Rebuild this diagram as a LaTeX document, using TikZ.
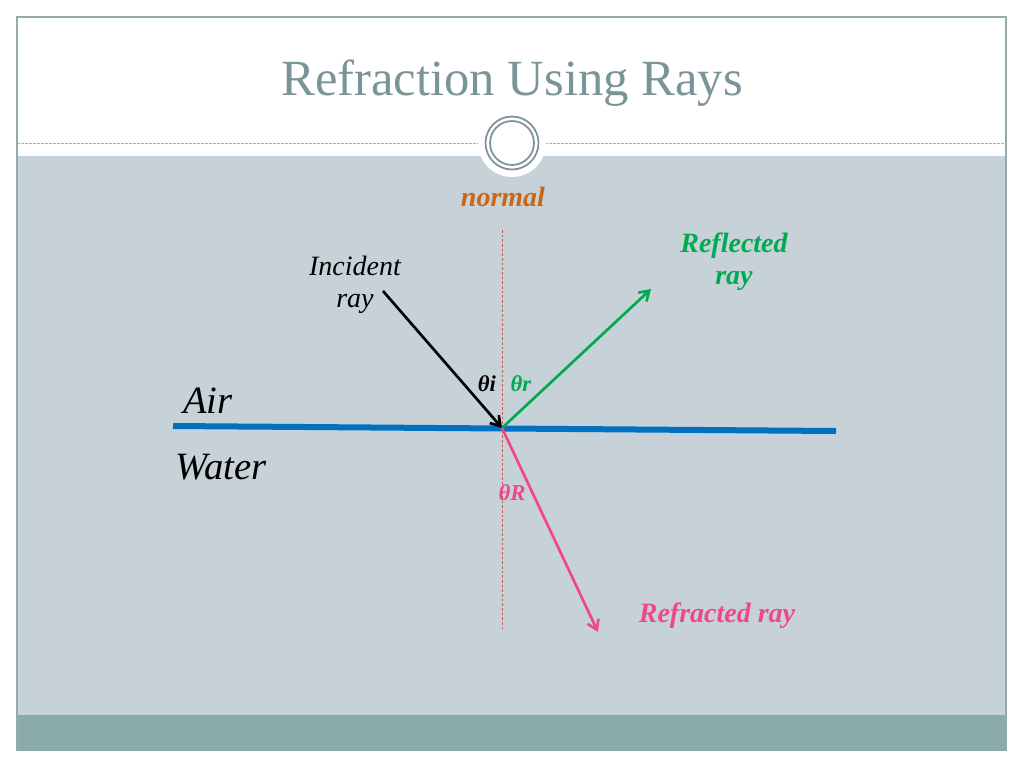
\documentclass[tikz,border=0pt]{standalone}
\usepackage{fontspec}
\setmainfont{Liberation Serif}
\usetikzlibrary{arrows.meta}
\definecolor{bggray}{RGB}{198,209,216}
\definecolor{barteal}{RGB}{138,171,171}
\definecolor{titlecol}{RGB}{122,148,152}
\definecolor{framecol}{RGB}{150,170,172}
\definecolor{normcol}{RGB}{204,102,20}
\definecolor{normline}{RGB}{200,90,80}
\definecolor{waterblue}{RGB}{0,112,192}
\definecolor{reflgreen}{RGB}{0,170,80}
\definecolor{refrpink}{RGB}{240,70,140}
\tikzset{
  ray/.style={line width=2pt,-{Straight Barb[length=7pt,width=9pt,line width=2pt]}},
  lbl/.style={inner sep=0pt,align=center},
}
\begin{document}
\begin{tikzpicture}[x=0.75pt,y=-0.75pt]
\useasboundingbox (0,0) rectangle (1024,768);
\fill[white] (0,0) rectangle (1024,768);
% panels
\fill[bggray] (17,156) rectangle (1006,715);
\fill[barteal] (17,715) rectangle (1006,751);
\draw[framecol,line width=0.8pt] (17,751) -- (17,17) -- (1006,17) -- (1006,751);
% dashed separator
\draw[titlecol!70,dashed,line width=0.6pt,dash pattern=on 2pt off 1pt] (17,143) -- (1006,143);
\fill[white] (512,143) circle (34);
\draw[titlecol,line width=1.3pt] (512,143) circle (26.5);
\draw[titlecol,line width=1.3pt] (512,143) circle (22);
% title
\node[lbl,text=titlecol,font=\fontsize{38pt}{44pt}\selectfont] (title) at (512,83) {Refraction Using Rays};
% geometry
\coordinate (O) at (502,428);
\coordinate (nt) at (502,230);
\coordinate (nb) at (502,630);
\coordinate (bl) at (173,426);
\coordinate (br) at (836,431);
\coordinate (inc) at (383,291);
\coordinate (refl) at (651,289);
\coordinate (refr) at (598,632);
\draw[normline,line width=0.7pt,dash pattern=on 2pt off 1.5pt] (nt) -- (nb);
\draw[waterblue,line width=4.5pt] (bl) -- (br);
\draw[ray,black] (inc) -- (O);
\draw[ray,reflgreen] (O) -- (refl);
\draw[ray,refrpink] (O) -- (refr);
% labels
\node[lbl,text=normcol,font=\fontsize{21pt}{25pt}\selectfont\bfseries\itshape] (normal) at (503,197) {normal};
\node[lbl,font=\fontsize{21pt}{25pt}\selectfont\itshape] (incident) at (355,285) {Incident\\[-1pt]ray};
\node[lbl,text=reflgreen,font=\fontsize{21pt}{25pt}\selectfont\bfseries\itshape] (reflected) at (734,262) {Reflected\\[-1pt]ray};
\node[lbl,text=refrpink,font=\fontsize{21pt}{25pt}\selectfont\bfseries\itshape] (refracted) at (717,616) {Refracted ray};
\node[lbl,font=\fontsize{29pt}{34pt}\selectfont\itshape] (air) at (208,401) {Air};
\node[lbl,font=\fontsize{29pt}{34pt}\selectfont\itshape] (water) at (221,467) {Water};
\node[lbl,font=\fontsize{17pt}{20pt}\selectfont\bfseries\itshape] (ti) at (487,384) {θi};
\node[lbl,text=reflgreen,font=\fontsize{17pt}{20pt}\selectfont\bfseries\itshape] (tr) at (521,384) {θr};
\node[lbl,text=refrpink,font=\fontsize{17pt}{20pt}\selectfont\bfseries\itshape] (tR) at (512,493) {θR};
\end{tikzpicture}
\end{document}
